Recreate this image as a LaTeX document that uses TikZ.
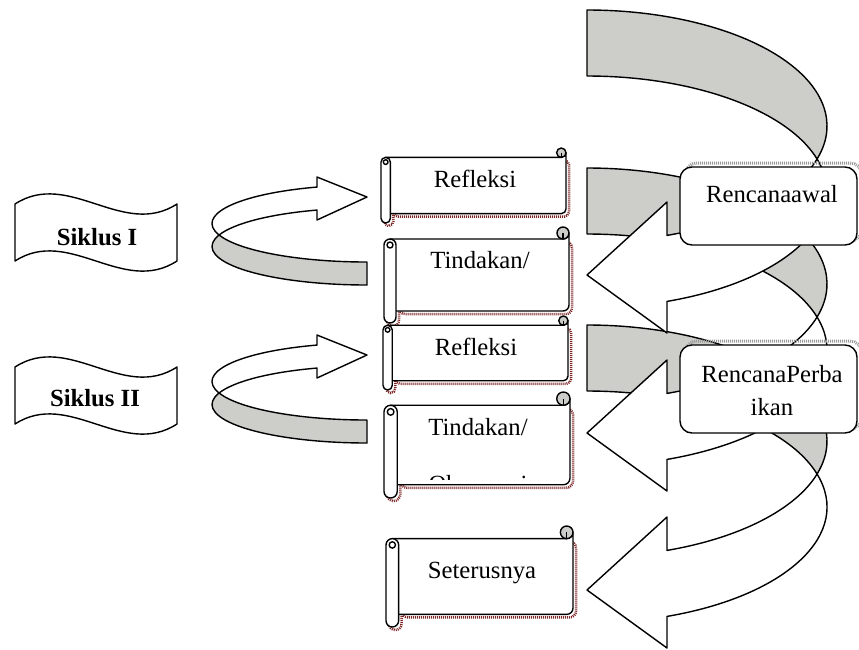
\documentclass[tikz,border=0pt]{standalone}
\usepackage{fontspec}
\setmainfont{Liberation Serif}
\definecolor{bandgray}{RGB}{205,205,201}
\definecolor{shadowred}{RGB}{125,35,35}
\tikzset{
  outline/.style={draw=black, line width=1.4pt, line join=round},
  backband/.style={outline, fill=bandgray},
  frontband/.style={outline, fill=white},
  scrollbody/.style={outline, fill=white},
  scrollcurl/.style={outline, fill=bandgray},
  scrollshadow/.style={draw=shadowred, line width=2.5pt, dash pattern=on 1pt off 1pt},
  planbox/.style={outline, fill=white, rounded corners=12pt},
  boxshadow/.style={draw=gray!80, line width=3pt, dash pattern=on 1pt off 1pt, rounded corners=12pt},
  wavebox/.style={outline, fill=white},
  lbl/.style={font=\fontsize{24.7pt}{33pt}\selectfont, inner sep=0pt, anchor=base, align=center},
}
\newcommand{\scrollshape}[4]{%
  \pgfmathsetmacro{\scrc}{(#4-#2)/8}%
  \pgfmathsetmacro{\scrh}{\scrc/2}%
  \pgfmathsetmacro{\scrq}{\scrc/4}%
  \draw[scrollshadow, rounded corners=\scrh pt] (#1+\scrc+3,#2+\scrc+3) rectangle (#3+3,#4-\scrc+3);
  \draw[scrollshadow, rounded corners=\scrh pt] (#1+3,#2+\scrc+3) rectangle (#1+\scrc+3,#4+3);
  \filldraw[scrollbody] (#1+\scrh,#2+\scrc) -- (#3-\scrh,#2+\scrc)
    arc[start angle=90, end angle=0, radius=\scrh pt] -- (#3,#4-\scrc-\scrh)
    arc[start angle=0, end angle=90, radius=\scrh pt] -- (#1+\scrh,#4-\scrc) -- cycle;
  \filldraw[scrollcurl] (#3-\scrh,#2+\scrh) circle[radius=\scrh pt];
  \draw[outline] (#3-\scrh,#2+\scrh) -- (#3-\scrh,#2+\scrc);
  \filldraw[scrollbody, rounded corners=\scrh pt] (#1,#2+\scrc) rectangle (#1+\scrc,#4);
  \draw[outline] (#1+\scrh,#2+\scrc+\scrh) circle[radius=\scrq pt];
}
\newcommand{\waveshape}[1]{%
  \filldraw[wavebox] (15,#1) .. controls (69,#1-35) and (123,#1+35) .. (177,#1)
    -- (177,#1+57) .. controls (123,#1+92) and (69,#1+22) .. (15,#1+57) -- cycle;
}
\begin{document}
\begin{tikzpicture}[x=1pt, y=1pt, yscale=-1]
  \useasboundingbox (0,0) rectangle (859,649);
  \clip (0,0) rectangle (859,649);
  \draw[backband] (587,325) arc[start angle=-90, end angle=16.53, x radius=240pt, y radius=116pt]
    arc[start angle=-16.53, end angle=-90, x radius=240pt, y radius=116pt] -- cycle;
  \draw[frontband] (667,550.4) arc[start angle=70.53, end angle=16.53, x radius=240pt, y radius=116pt]
    arc[start angle=-16.53, end angle=70.53, x radius=240pt, y radius=116pt]
    -- (667,648) -- (587,590) -- (667,517) -- cycle;
  \draw[backband] (587,168) arc[start angle=-90, end angle=16.53, x radius=240pt, y radius=116pt]
    arc[start angle=-16.53, end angle=-90, x radius=240pt, y radius=116pt] -- cycle;
  \draw[frontband] (667,393.4) arc[start angle=70.53, end angle=16.53, x radius=240pt, y radius=116pt]
    arc[start angle=-16.53, end angle=70.53, x radius=240pt, y radius=116pt]
    -- (667,491) -- (587,433) -- (667,360) -- cycle;
  \draw[backband] (587,10) arc[start angle=-90, end angle=16.53, x radius=240pt, y radius=116pt]
    arc[start angle=-16.53, end angle=-90, x radius=240pt, y radius=116pt] -- cycle;
  \draw[frontband] (667,235.4) arc[start angle=70.53, end angle=16.53, x radius=240pt, y radius=116pt]
    arc[start angle=-16.53, end angle=70.53, x radius=240pt, y radius=116pt]
    -- (667,333) -- (587,275) -- (667,202) -- cycle;

  \draw[boxshadow] (685,163) rectangle (862,241);
  \draw[planbox] (680,167) rectangle (857,245);
  \node[lbl] (awal) at (772,202) {Rencanaawal};
  \draw[boxshadow] (685,341) rectangle (862,429);
  \draw[planbox] (680,345) rectangle (857,433);
  \node[lbl] (perbaikan) at (772,415) {RencanaPerba\\ikan};

  \scrollshape{381}{148}{566}{223}
  \node[lbl] (ref1) at (475,187) {Refleksi};
  \scrollshape{384}{227}{569}{323}
  \node[lbl] (tin1) at (480,268) {Tindakan/};
  \scrollshape{383}{316}{568}{390}
  \node[lbl] (ref2) at (476,355) {Refleksi};
  \scrollshape{384}{392}{570}{498}
  \node[lbl] (tin2) at (478,435) {Tindakan/};
  \begin{scope}
    \clip (390,440) rectangle (565,479);
    \node[lbl] (obs2) at (478,492) {Observasi};
  \end{scope}
  \scrollshape{386}{526}{573}{627}
  \node[lbl] (lanjut) at (482,578) {Seterusnya};

  \draw[backband] (367,285) arc[start angle=90, end angle=197.38, x radius=155pt, y radius=38.5pt]
    arc[start angle=162.62, end angle=90, x radius=155pt, y radius=38.5pt] -- cycle;
  \draw[frontband] (317,187.06) arc[start angle=251.18, end angle=162.62, x radius=155pt, y radius=38.5pt]
    arc[start angle=197.38, end angle=251.18, x radius=155pt, y radius=38.5pt]
    -- (317,220) -- (367,197) -- (317,177) -- cycle;
  \draw[backband] (367,443) arc[start angle=90, end angle=197.38, x radius=155pt, y radius=38.5pt]
    arc[start angle=162.62, end angle=90, x radius=155pt, y radius=38.5pt] -- cycle;
  \draw[frontband] (317,345.06) arc[start angle=251.18, end angle=162.62, x radius=155pt, y radius=38.5pt]
    arc[start angle=197.38, end angle=251.18, x radius=155pt, y radius=38.5pt]
    -- (317,378) -- (367,355) -- (317,335) -- cycle;

  \waveshape{204}
  \node[lbl, font=\fontsize{24.7pt}{33pt}\selectfont\bfseries] (sik1) at (97,245) {Siklus I};
  \waveshape{367}
  \node[lbl, font=\fontsize{24.7pt}{33pt}\selectfont\bfseries] (sik2) at (95,406) {Siklus II};
\end{tikzpicture}
\end{document}
